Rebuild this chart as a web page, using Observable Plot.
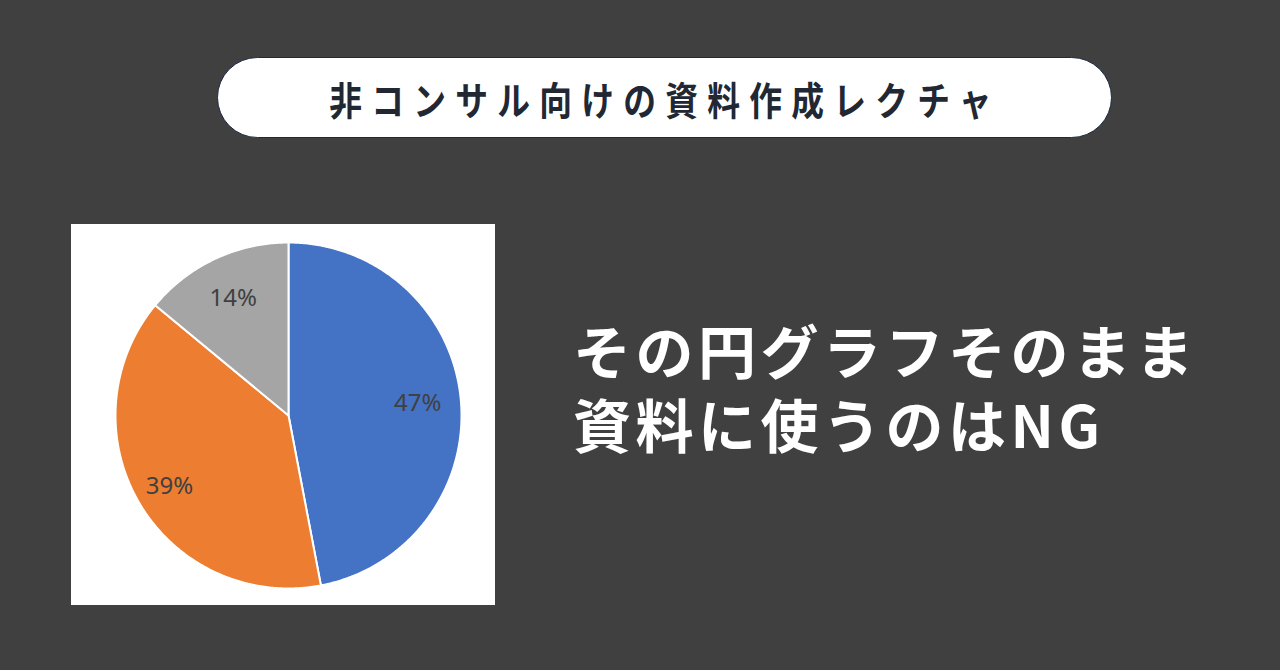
<!DOCTYPE html>
<html>
<head>
<meta charset="utf-8">
<script src="https://cdn.jsdelivr.net/npm/d3@7"></script>
<script src="https://cdn.jsdelivr.net/npm/@observablehq/plot@0.6"></script>
<style>
  html, body { margin: 0; padding: 0; }
  body { width: 1280px; height: 670px; background: #404040; position: relative; overflow: hidden;
         font-family: "Noto Sans CJK JP", "Noto Sans", sans-serif; }
  #pill { position: absolute; left: 217px; top: 57px; width: 893px; height: 79px;
          background: #fff; border: 1.5px solid #1e2a45; border-radius: 41px; }
  #pill span { position: absolute; left: 50%; top: 50%; white-space: nowrap;
               transform: translate(-50%, -50%) scaleX(0.84); font-size: 39px; font-weight: 700;
               color: #222734; letter-spacing: 11px; }
  #box { position: absolute; left: 71px; top: 224px; width: 424px; height: 381px; background: #fff; }
  .hl { position: absolute; left: 573px; color: #fff; font-size: 58px;
        font-weight: 700; line-height: 58px; letter-spacing: 4.5px; white-space: nowrap; }
</style>
</head>
<body>
<div id="pill"><span id="pilltext"></span></div>
<div id="box"></div>
<div class="hl" id="hl1" style="top:320px"></div>
<div class="hl" id="hl2" style="top:394px"></div>
<script>
const title = "非コンサル向けの資料作成レクチャ";
const headlineLines = ["その円グラフそのまま", "資料に使うのはNG"];
const categories = ["A", "B", "C"];
const values = [47, 39, 14];
const labels = ["47%", "39%", "14%"];
const colors = ["#4472C4", "#ED7D31", "#A5A5A5"];

document.getElementById("pilltext").textContent = title;
document.getElementById("hl1").textContent = headlineLines[0];
document.getElementById("hl2").textContent = headlineLines[1];

// slices via d3.pie (clockwise from top), arc outlines in unit coordinates
const arcs = d3.pie().sort(null).value(d => d.value)(categories.map((c, i) => ({c, value: values[i], label: labels[i]})));
const outline = [];
const labelPts = [];
for (const a of arcs) {
  outline.push({c: a.data.c, x: 0, y: 0});
  const n = Math.max(2, Math.ceil((a.endAngle - a.startAngle) / 0.01));
  for (let k = 0; k <= n; k++) {
    const t = a.startAngle + (a.endAngle - a.startAngle) * k / n;
    outline.push({c: a.data.c, x: Math.sin(t), y: Math.cos(t)});
  }
  const m = (a.startAngle + a.endAngle) / 2;
  const r = a.data.c === "B" ? 0.8 : 0.75;
  labelPts.push({c: a.data.c, label: a.data.label, x: r * Math.sin(m), y: r * Math.cos(m)});
}

const chart = Plot.plot({
  width: 424,
  height: 381,
  marginLeft: 44,
  marginRight: 34,
  marginTop: 18,
  marginBottom: 17,
  x: {domain: [-1, 1], axis: null},
  y: {domain: [-1, 1], axis: null},
  color: {domain: categories, range: colors},
  style: {background: "#fff", overflow: "visible"},
  marks: [
    Plot.line(outline, {x: "x", y: "y", z: "c", fill: "c", stroke: "#fff", strokeWidth: 2, curve: "linear-closed"}),
    Plot.text(labelPts, {x: "x", y: "y", text: "label", fill: "#404040", fontSize: 24,
      fontFamily: "'Noto Sans', 'Open Sans', sans-serif"})
  ]
});
document.getElementById("box").appendChild(chart);
</script>
</body>
</html>
